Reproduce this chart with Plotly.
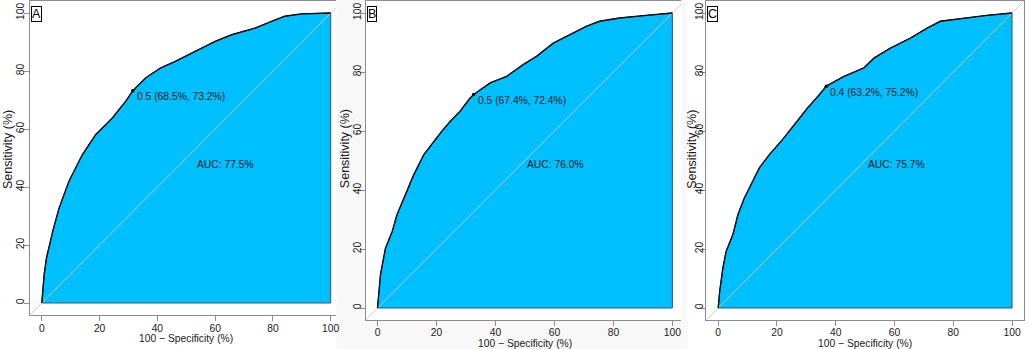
import plotly.graph_objects as go

# ---------------- data ----------------
panel_labels = ["A", "B", "C"]

A_fpr = [0, 0.3, 0.8, 1.6, 2.5, 3.1, 3.9, 6.0, 9.4, 14.0, 18.6, 24.4, 29.0, 31.5, 35.9, 41.0,
         46.2, 53.1, 60.0, 65.7, 73.8, 79.5, 84.1, 89.9, 100]
A_tpr = [0, 4.0, 9.8, 15.5, 19.7, 21.3, 25.2, 32.8, 42.0, 51.1, 58.0, 63.8, 69.5, 73.2, 77.6, 81.0,
         83.3, 86.8, 90.2, 92.5, 94.8, 97.1, 98.9, 99.7, 100]

B_fpr = [0, 0.4, 1.0, 2.7, 5.0, 6.6, 8.9, 12.3, 15.7, 19.0, 21.8, 24.7, 28.0, 31.4, 32.6, 38.2,
         43.8, 49.4, 53.9, 59.6, 65.2, 70.8, 75.3, 82.1, 91.1, 100]
B_tpr = [0, 5.0, 11.3, 20.3, 26.0, 31.6, 37.3, 45.2, 52.0, 56.5, 59.9, 63.3, 66.7, 71.2, 72.4, 76.3,
         78.5, 82.5, 85.3, 89.8, 92.7, 95.5, 97.2, 98.3, 99.2, 100]

C_fpr = [0, 0.5, 1.6, 2.7, 5.0, 6.7, 8.9, 11.2, 14.0, 17.4, 21.4, 25.9, 30.4, 34.4, 36.8, 42.8,
         49.6, 53.0, 58.6, 65.4, 71.1, 75.6, 83.5, 91.4, 100]
C_tpr = [0, 5.6, 13.6, 19.2, 24.9, 31.6, 37.3, 41.8, 47.5, 52.0, 56.5, 62.1, 67.8, 72.3, 75.2, 78.5,
         81.4, 84.7, 88.1, 91.5, 94.9, 97.2, 98.3, 99.2, 100]

thr_labels = ["0.5 (68.5%, 73.2%)", "0.5 (67.4%, 72.4%)", "0.4 (63.2%, 75.2%)"]
thr_x = [31.5, 32.6, 36.8]      # 100 - specificity
thr_y = [73.2, 72.4, 75.2]      # sensitivity
auc_labels = ["AUC: 77.5%", "AUC: 76.0%", "AUC: 75.7%"]
auc_pos_x = [53.0, 50.0, 50.2]
auc_pos_y = [47.9, 48.7, 48.7]

tick_vals = [0, 20, 40, 60, 80, 100]
x_title = "100 \u2212 Specificity (%)"
y_title = "Sensitivity (%)"

curves = [(A_fpr, A_tpr), (B_fpr, B_tpr), (C_fpr, C_tpr)]

# ---------------- layout geometry (pixels) ----------------
W, H = 1029, 349
geo = [
    dict(x0=42, sx=2.90, xr=[-4, 101.8], y0=303, sy=2.90, mirror_y=False,
         ytitle_x=8.0, ylab_pos=33.4, xlab_pos=314.0),
    dict(x0=379, sx=2.96, xr=[-4, 103.0], y0=308, sy=2.95, mirror_y=False,
         ytitle_x=346.5, ylab_pos=371.4, xlab_pos=317.5),
    dict(x0=721, sx=2.95, xr=[-4, 104.0], y0=308, sy=2.95, mirror_y=True,
         ytitle_x=694.5, ylab_pos=715.0, xlab_pos=317.5),
]
yr = [-4, 104]
YTITLE_CY = 149

FONT = "Liberation Sans, Arial, Helvetica, sans-serif"
FS = 10.3
FRAME = "#8c8c8c"
FILL = "#00BFFF"
TXT = "#1a1a1a"
CLEAR = "rgba(0,0,0,0)"

fig = go.Figure()
layout = dict(
    width=W, height=H,
    margin=dict(l=0, r=0, t=0, b=0),
    paper_bgcolor="white", plot_bgcolor=CLEAR,
    showlegend=False,
    font=dict(family=FONT, size=FS, color=TXT),
)
annotations = []
shapes = [
    dict(type="rect", xref="paper", yref="paper", x0=338 / W, x1=690 / W, y0=0, y1=1,
         fillcolor="#f8f8f8", line=dict(width=0), layer="below"),
]

for i, g in enumerate(geo):
    n = i + 1
    xa = "x" if n == 1 else f"x{n}"
    ya = "y" if n == 1 else f"y{n}"
    xl, yl = f"x{n + 3}", f"y{n + 3}"     # label-carrying overlay axes
    fx, fy = curves[i]

    left = g["x0"] + g["sx"] * g["xr"][0]
    right = g["x0"] + g["sx"] * g["xr"][1]
    bottom = g["y0"] - g["sy"] * yr[0]
    top = g["y0"] - g["sy"] * yr[1]

    shapes.append(dict(type="rect", xref="paper", yref="paper",
                       x0=left / W, x1=right / W, y0=1 - bottom / H, y1=1 - top / H,
                       fillcolor="white", line=dict(width=0), layer="below"))

    fig.add_trace(go.Scatter(x=list(fx) + [100, 0], y=list(fy) + [0, 0],
                             mode="lines", fill="toself", fillcolor=FILL,
                             line=dict(color="#2c5a6b", width=1),
                             xaxis=xa, yaxis=ya, hoverinfo="skip"))
    fig.add_trace(go.Scatter(x=[yr[0], yr[1]], y=[yr[0], yr[1]], mode="lines",
                             line=dict(color="#c4c8ca", width=1),
                             xaxis=xa, yaxis=ya, hoverinfo="skip"))
    fig.add_trace(go.Scatter(x=fx, y=fy, mode="lines",
                             line=dict(color="black", width=1.4),
                             xaxis=xa, yaxis=ya))
    fig.add_trace(go.Scatter(x=[thr_x[i]], y=[thr_y[i]], mode="markers",
                             marker=dict(color="black", size=3.5),
                             xaxis=xa, yaxis=ya))
    # empty traces so the overlay label axes get drawn
    fig.add_trace(go.Scatter(x=[None], y=[None], mode="markers", xaxis=xl, yaxis=ya,
                             hoverinfo="skip"))
    fig.add_trace(go.Scatter(x=[None], y=[None], mode="markers", xaxis=xa, yaxis=yl,
                             hoverinfo="skip"))

    xkey = "xaxis" if n == 1 else f"xaxis{n}"
    ykey = "yaxis" if n == 1 else f"yaxis{n}"
    common = dict(showgrid=False, zeroline=False, tickvals=tick_vals,
                  ticktext=[str(v) for v in tick_vals])
    layout[xkey] = dict(
        domain=[left / W, right / W], range=g["xr"], anchor=ya,
        showline=True, linecolor=FRAME, linewidth=1, mirror=True,
        ticks="outside", ticklen=5, tickcolor=FRAME, tickwidth=1,
        showticklabels=False, **common,
    )
    layout[ykey] = dict(
        domain=[1 - bottom / H, 1 - top / H], range=yr, anchor=xa,
        showline=True, linecolor=FRAME, linewidth=1, mirror=g["mirror_y"],
        ticks="outside", ticklen=5, tickcolor=FRAME, tickwidth=1,
        showticklabels=False, **common,
    )
    # overlay axes that only carry the tick labels, positioned freely
    layout[f"xaxis{n + 3}"] = dict(
        overlaying=xa, range=g["xr"], anchor="free", position=1 - g["xlab_pos"] / H,
        side="bottom", showline=False, ticks="outside", ticklen=5, tickcolor=CLEAR,
        tickfont=dict(family=FONT, size=FS, color=TXT), **common,
    )
    layout[f"yaxis{n + 3}"] = dict(
        overlaying=ya, range=yr, anchor="free", position=g["ylab_pos"] / W,
        side="left", showline=False, ticks="outside", ticklen=5, tickcolor=CLEAR,
        tickangle=-90, tickfont=dict(family=FONT, size=FS, color=TXT), **common,
    )

    annotations.append(dict(x=thr_x[i], y=thr_y[i], xref=xa, yref=ya, text=thr_labels[i],
                            showarrow=False, xanchor="left", yanchor="middle",
                            xshift=2, yshift=-6, font=dict(size=FS, color=TXT)))
    annotations.append(dict(x=auc_pos_x[i], y=auc_pos_y[i], xref=xa, yref=ya, text=auc_labels[i],
                            showarrow=False, xanchor="left", yanchor="middle",
                            font=dict(size=FS, color=TXT)))
    annotations.append(dict(x=g["xr"][0], y=yr[1], xref=xa, yref=ya, text=panel_labels[i],
                            showarrow=False, xanchor="left", yanchor="top",
                            xshift=1, yshift=-5, bordercolor="black", borderwidth=1,
                            borderpad=0, bgcolor="white",
                            font=dict(size=12.5, color="black")))
    annotations.append(dict(x=(g["x0"] + 50 * g["sx"]) / W, y=1 - (bottom + 24) / H,
                            xref="paper", yref="paper", text=x_title, showarrow=False,
                            xanchor="center", yanchor="middle", font=dict(size=FS)))
    annotations.append(dict(x=g["ytitle_x"] / W, y=1 - YTITLE_CY / H,
                            xref="paper", yref="paper", text=y_title, showarrow=False,
                            textangle=-90, xanchor="center", yanchor="middle",
                            font=dict(size=12.5)))

layout["annotations"] = annotations
layout["shapes"] = shapes
fig.update_layout(**layout)
fig.write_html("out.html", config={"displayModeBar": False},
               post_script="document.body.style.margin='0';document.body.style.overflow='hidden';")
